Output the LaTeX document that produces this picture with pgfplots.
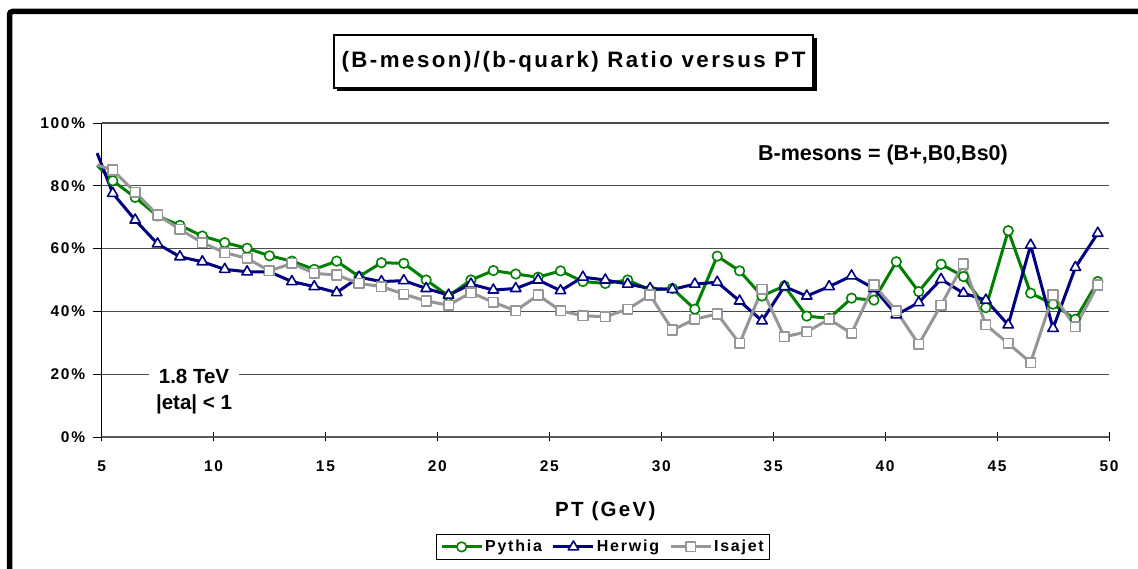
\documentclass[border=0pt]{standalone}
\usepackage{pgfplots}
\pgfplotsset{compat=1.18}
\usepackage{fontspec}
\setmainfont{Liberation Sans}
\newfontfamily\spaced[LetterSpace=11]{Liberation Sans}
\definecolor{pyg}{HTML}{008000}
\definecolor{hwb}{HTML}{000080}
\definecolor{isg}{HTML}{969696}

\pgfplotstableread{
x y
5.5 81.6
6.5 76.3
7.5 70.4
8.5 67.4
9.5 64.0
10.5 61.9
11.5 60.1
12.5 57.7
13.5 56.0
14.5 53.4
15.5 56.0
16.5 51.1
17.5 55.5
18.5 55.3
19.5 50.0
20.5 44.9
21.5 50.0
22.5 53.0
23.5 51.9
24.5 50.9
25.5 52.9
26.5 49.5
27.5 48.9
28.5 50.0
29.5 46.8
30.5 47.3
31.5 40.7
32.5 57.6
33.5 52.9
34.5 44.9
35.5 48.1
36.5 38.5
37.5 37.8
38.5 44.2
39.5 43.6
40.5 55.8
41.5 46.3
42.5 55.0
43.5 51.1
44.5 41.2
45.5 65.7
46.5 45.8
47.5 42.3
48.5 37.5
49.5 49.5
}\pythia

\pgfplotstableread{
x y
5.5 77.6
6.5 69.1
7.5 61.5
8.5 57.4
9.5 55.8
10.5 53.4
11.5 52.6
12.5 52.6
13.5 49.5
14.5 47.9
15.5 46.0
16.5 50.9
17.5 49.5
18.5 49.8
19.5 47.3
20.5 45.2
21.5 48.7
22.5 46.8
23.5 47.3
24.5 50.0
25.5 46.6
26.5 50.9
27.5 50.0
28.5 48.7
29.5 47.3
30.5 47.0
31.5 48.7
32.5 49.3
33.5 43.3
34.5 37.0
35.5 47.9
36.5 44.9
37.5 47.9
38.5 51.3
39.5 47.3
40.5 38.9
41.5 42.8
42.5 50.2
43.5 45.8
44.5 43.6
45.5 35.7
46.5 61.1
47.5 34.6
48.5 54.0
49.5 64.9
}\herwig

\pgfplotstableread{
x y
5.5 85.0
6.5 77.9
7.5 70.7
8.5 66.1
9.5 61.9
10.5 58.7
11.5 56.9
12.5 52.9
13.5 55.3
14.5 52.1
15.5 51.6
16.5 48.9
17.5 47.9
18.5 45.5
19.5 43.3
20.5 42.0
21.5 46.0
22.5 42.9
23.5 40.2
24.5 45.2
25.5 40.2
26.5 38.6
27.5 38.3
28.5 40.7
29.5 45.2
30.5 34.1
31.5 37.5
32.5 39.2
33.5 29.8
34.5 47.0
35.5 31.9
36.5 33.5
37.5 37.5
38.5 33.0
39.5 48.4
40.5 40.2
41.5 29.5
42.5 42.0
43.5 55.1
44.5 35.7
45.5 29.8
46.5 23.7
47.5 45.2
48.5 35.1
49.5 48.4
}\isajet

\begin{document}
\begin{tikzpicture}[x=1pt,y=1pt]
\path[use as bounding box] (0,0) rectangle (1138,569);
\begin{scope}
\clip (0,0) rectangle (1138,569);
\draw[line width=5.5pt, rounded corners=3pt] (9.5,-50) -- (9.5,557.5) -- (1200,557.5);
\end{scope}

% title box
\fill[black] (337,478) rectangle (817,531);
\draw[fill=white, line width=1.2pt] (334,481) rectangle (813,534);
\node[font=\spaced\bfseries\fontsize{22.3}{25}\selectfont] at (573.5,507.5) {(B-meson)/(b-quark) Ratio versus PT};

\begin{axis}[
  at={(101.6pt,132pt)}, anchor=south west,
  scale only axis, width=1007.4pt, height=314pt,
  xmin=5, xmax=50, ymin=0, ymax=100,
  clip=false,
  axis lines*=left,
  x axis line style={black!65, line width=2pt},
  y axis line style={black, line width=1.2pt},
  xtick={5,10,...,50},
  ytick={0,20,40,60,80,100},
  yticklabels={0\%,20\%,40\%,60\%,80\%,100\%},
  xtick align=center, ytick align=outside,
  major tick length=9pt,
  tick style={black, line width=0.8pt},
  ymajorgrids, grid style={black!70, line width=1.2pt},
  /pgf/number format/assume math mode=true,
  tick label style={font=\spaced\bfseries\fontsize{15.5}{17}\selectfont},
  xticklabel style={yshift=-16pt},
  yticklabel style={xshift=-4pt},
  xlabel={PT (GeV)},
  xlabel style={at={(axis description cs:0.5,-0.2357)}, anchor=center, font=\spaced\bfseries\fontsize{20.5}{23}\selectfont},
  legend columns=3,
  legend style={at={(axis description cs:0.4977,-0.350)}, anchor=center, draw=black, line width=0.8pt,
    font=\spaced\bfseries\fontsize{16}{18}\selectfont, inner xsep=4pt, inner ysep=4pt,
    /tikz/every even column/.append style={column sep=8pt}},
  legend image code/.code={\draw[#1, mark repeat=2, mark phase=2] plot coordinates {(0pt,0pt) (20pt,0pt) (40pt,0pt)};},
  every axis plot/.append style={line width=3pt, line join=round},
]
\addplot[pyg, no marks, forget plot] coordinates {(4.8,86.5) (5.5,81.6)};
\addplot[hwb, no marks, forget plot] coordinates {(4.8,90.4) (5.5,77.6)};
\addplot[isg, no marks, forget plot] coordinates {(4.8,86.6) (5.5,85.0)};
\addplot[pyg, mark=*, mark size=4.8pt, mark options={fill=white, draw=pyg, line width=1.6pt}] table {\pythia};
\addlegendentry{Pythia}
\addplot[hwb, mark=triangle*, mark size=6pt, mark options={fill=white, draw=hwb, line width=1.6pt}] table {\herwig};
\addlegendentry{Herwig}
\addplot[isg, mark=square*, mark size=4.8pt, mark options={fill=white, draw=isg, line width=1.6pt}] table {\isajet};
\addlegendentry{Isajet}
\end{axis}

\node[font=\bfseries\fontsize{21.5}{24}\selectfont] at (883,414) {B-mesons = (B+,B0,Bs0)};
\node[fill=white, inner xsep=10pt, inner ysep=1pt, font=\bfseries\fontsize{20.5}{24}\selectfont] at (194,193) {1.8 TeV};
\node[font=\bfseries\fontsize{20.5}{24}\selectfont] at (194,165) {|eta| < 1};
\end{tikzpicture}
\end{document}
